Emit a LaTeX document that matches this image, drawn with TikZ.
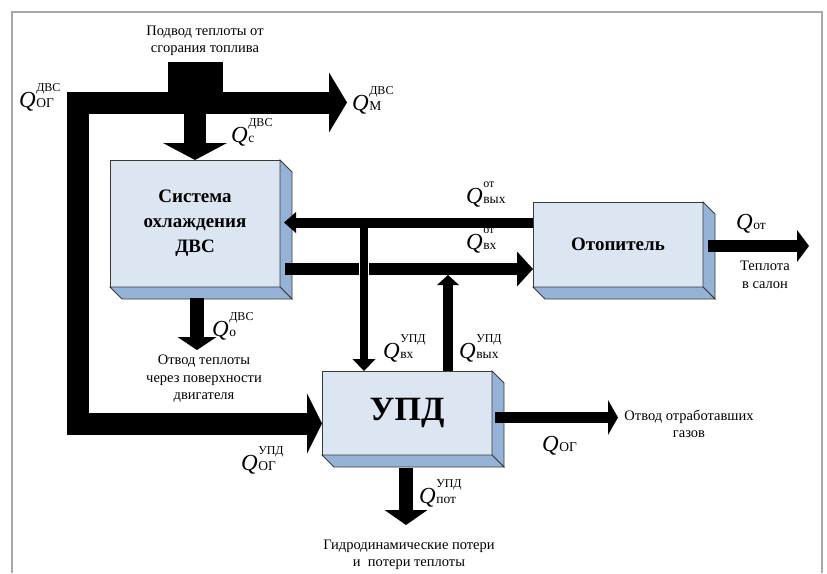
\documentclass[tikz,border=0pt]{standalone}
\usepackage{fontspec}
\setmainfont{Liberation Serif}
\usetikzlibrary{arrows.meta,calc}

\definecolor{faceblue}{HTML}{DCE6F2}
\definecolor{sideblue}{HTML}{95B3D7}
\definecolor{edgegray}{HTML}{3A3A3A}
\definecolor{framegray}{HTML}{A8A8A8}

% Q with upper and lower index
\newcommand{\heatq}[2]{\textit{Q}\kern0.5pt\ooalign{\raisebox{16pt}{\fontsize{12}{12}\selectfont #1}\cr\raisebox{-0.5pt}{\fontsize{13.5}{14}\selectfont #2}\cr}}
\newcommand{\heatqs}[1]{\textit{Q}\kern0.5pt\raisebox{-0.5pt}{\fontsize{13.5}{14}\selectfont #1}}

% right and bottom faces of a unit box
\newcommand{\slabsides}[1]{%
  \filldraw[fill=sideblue, draw=edgegray, line width=0.8pt] (#1.north east) -- ++(12,12) -- ($(#1.south east)+(12,12)$) -- (#1.south east) -- cycle;
  \filldraw[fill=sideblue, draw=edgegray, line width=0.8pt] (#1.south west) -- (#1.south east) -- ($(#1.south east)+(12,12)$) -- ($(#1.south west)+(12,12)$) -- cycle;}

\begin{document}
\begin{tikzpicture}[x=1pt,y=-1pt,
	unitbox/.style={draw=edgegray, fill=faceblue, line width=0.8pt, minimum width=170pt, inner sep=0pt, outer sep=0pt, align=center, font=\bfseries\fontsize{19}{25}\selectfont},
	qlabel/.style={inner sep=0pt, anchor=base west, font=\fontsize{23}{23}\selectfont},
	textlabel/.style={inner sep=0pt, align=center, font=\fontsize{14.5}{17.5}\selectfont},
	flow/.style n args={3}{line width=#1, -{Triangle[length=#2,width=#3,line width=0pt]}}]
	\useasboundingbox (0,0) rectangle (827,573);
	\draw [framegray, line width=1.5pt] (12,573) -- (12,12) -- (822,12) -- (822,573);
	% units
	\node [unitbox, minimum height=127pt] (cool) at (195,223.5) {Система\\охлаждения\\ДВС};
	\node [unitbox, minimum height=85pt] (heat) at (618,244.5) {Отопитель};
	\node [unitbox, minimum height=84pt, font=\bfseries\fontsize{34}{34}\selectfont] (upd) at (407,413) {УПД};
	\slabsides{cool}
	\slabsides{heat}
	\slabsides{upd}
	% points of the flows
	\coordinate (fuel) at (195,62);
	\coordinate (mechout) at (347,102.5);
	\coordinate (ntop) at (77.5,102.5);
	\coordinate (nbot) at (77.5,423.5);
	\coordinate (retl) at (0,222.5);
	\coordinate (fwdl) at (0,269);
	\coordinate (updin) at (364,0);
	\coordinate (updout) at (448,0);
	\coordinate (surf) at (197,350);
	\coordinate (loss) at (406,525);
	\coordinate (salon) at (809,246);
	\coordinate (exhaust) at (618,417.5);
	% engine flows
	\draw [line width=55pt] (fuel) -- (fuel |- ntop);
	\draw [line width=22pt, line join=miter, {Triangle[length=18pt,width=60pt,line width=0pt]}-{Triangle[length=15pt,width=60pt,line width=0pt]}] (mechout) -- (ntop) -- (nbot) -- (upd.west |- nbot);
	\draw [flow={22pt}{17pt}{64pt}] (cool.north |- ntop) -- (cool.north);
	\draw [flow={14pt}{13pt}{39pt}] ($(surf |- cool.south)+(0,11)$) -- (surf);
	% heater loop
	\draw [flow={10pt}{12pt}{21pt}] (heat.west |- retl) -- ($(cool.east |- retl)+(4,0)$);
	\draw [flow={12pt}{16pt}{35pt}] ($(cool.east |- fwdl)+(5,0)$) -- (heat.west |- fwdl);
	\draw [white, line width=10pt] ($(updin |- fwdl)+(0,-6)$) -- ($(updin |- fwdl)+(0,6)$);
	\draw [flow={8pt}{12pt}{23pt}] (updin |- retl) -- (updin |- upd.north);
	\draw [flow={10pt}{10pt}{22pt}] (updout |- upd.north) -- ($(updout |- fwdl)+(0,6)$);
	\draw [flow={12pt}{12pt}{32pt}] ($(heat.east |- salon)+(5,0)$) -- (salon);
	% UPD outputs
	\draw [flow={11pt}{10pt}{35pt}] ($(upd.east |- exhaust)+(3,0)$) -- (exhaust);
	\draw [flow={14pt}{15pt}{43pt}] ($(loss |- upd.south)+(0,13)$) -- (loss);
	% labels
	\node [textlabel] (fueltext) at (205,41) {Подвод теплоты от\\сгорания топлива};
	\node [textlabel] (surftext) at (204,379) {Отвод теплоты\\через поверхности\\двигателя};
	\node [textlabel] (salontext) at (765,275) {Теплота\\в салон};
	\node [textlabel] (exhausttext) at (689,424) {Отвод отработавших\\газов};
	\node [textlabel] (losstext) at (409,555) {Гидродинамические потери\\и\ \ потери теплоты};
	\node [qlabel] (qogdvs) at (19,107) {\heatq{ДВС}{ОГ}};
	\node [qlabel] (qmdvs) at (352,110) {\heatq{ДВС}{М}};
	\node [qlabel] (qcdvs) at (231,142) {\heatq{ДВС}{с}};
	\node [qlabel] (qodvs) at (212,336) {\heatq{ДВС}{о}};
	\node [qlabel] (qinupd) at (383,358) {\heatq{УПД}{вх}};
	\node [qlabel] (qoutupd) at (459,358) {\heatq{УПД}{вых}};
	\node [qlabel] (qoutot) at (466,203) {\heatq{от}{вых}};
	\node [qlabel] (qinot) at (466,249) {\heatq{от}{вх}};
	\node [qlabel] (qot) at (736,229) {\heatqs{от}};
	\node [qlabel] (qogupd) at (241,470) {\heatq{УПД}{ОГ}};
	\node [qlabel] (qog) at (542,451) {\heatqs{ОГ}};
	\node [qlabel] (qpotupd) at (419,503) {\heatq{УПД}{пот}};
\end{tikzpicture}
\end{document}
